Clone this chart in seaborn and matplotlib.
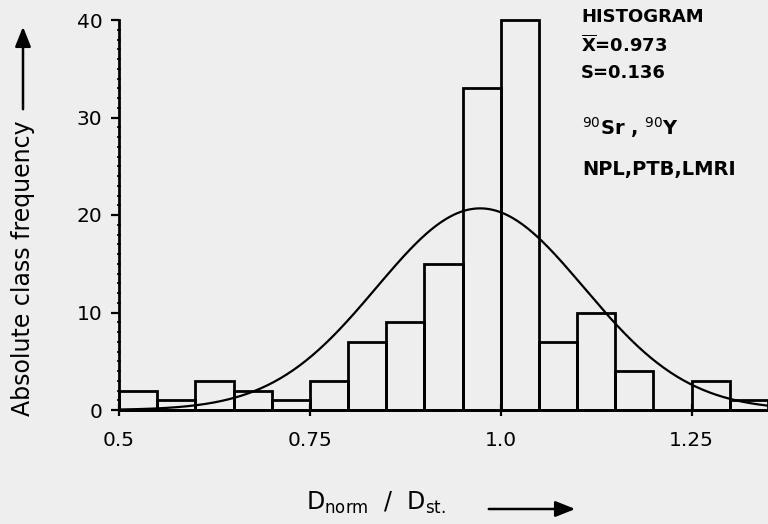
import numpy as np
import matplotlib
matplotlib.use("Agg")
import matplotlib.pyplot as plt
import seaborn as sns

# Class boundaries of D_norm / D_st. and absolute class frequencies
bin_edges = [0.50, 0.55, 0.60, 0.65, 0.70, 0.75, 0.80, 0.85, 0.90,
             0.95, 1.00, 1.05, 1.10, 1.15, 1.20, 1.25, 1.30, 1.35]
counts = [2, 1, 3, 2, 1, 3, 7, 9, 15, 33, 40, 7, 10, 4, 0, 3, 1]

# Summary statistics of the distribution
mean_value = 0.973
std_value = 0.136

x_ticks = [0.5, 0.75, 1.0, 1.25]
x_tick_labels = ["0.5", "0.75", "1.0", "1.25"]
y_ticks = [0, 10, 20, 30, 40]

stats_lines = ["HISTOGRAM", r"$\overline{\mathbf{X}}$=0.973", "S=0.136"]
source_lines = [r"$^{90}$Sr , $^{90}$Y", "NPL,PTB,LMRI"]

bg = "#eeeeee"
sns.set_theme(style="ticks")
plt.rcParams["font.family"] = ["DejaVu Sans"]
plt.rcParams["mathtext.fontset"] = "dejavusans"

W, H = 768, 524
fig = plt.figure(figsize=(W / 100, H / 100), dpi=100, facecolor=bg)
ax = fig.add_axes([119 / W, 114 / H, 649 / W, 390 / H])
ax.set_facecolor(bg)

centers = [(a + b) / 2 for a, b in zip(bin_edges[:-1], bin_edges[1:])]
sns.histplot(x=centers, weights=counts, bins=bin_edges, fill=False,
             element="bars", color="black", linewidth=2.0, ax=ax)
for p in ax.patches:
    p.set_clip_on(False)

# Fitted normal curve scaled to the number of observations and class width
n_total = sum(counts)
width = bin_edges[1] - bin_edges[0]
xs = np.linspace(bin_edges[0], bin_edges[-1], 400)
ys = n_total * width / (std_value * np.sqrt(2 * np.pi)) * np.exp(-0.5 * ((xs - mean_value) / std_value) ** 2)
sns.lineplot(x=xs, y=ys, color="black", linewidth=1.6, ax=ax)

ax.set_xlim(bin_edges[0], bin_edges[-1])
ax.set_ylim(0, 40)
ax.set_xticks(x_ticks)
ax.set_xticklabels(x_tick_labels)
ax.set_yticks(y_ticks)
ax.set_yticks(np.arange(0, 41, 1), minor=True)
ax.tick_params(axis="both", which="major", labelsize=14.5, width=1.6, length=8,
               color="black", labelcolor="black")
ax.tick_params(axis="x", which="major", direction="inout", pad=11)
ax.tick_params(axis="y", which="major", direction="out", length=6, pad=6)
ax.tick_params(axis="y", which="minor", direction="inout", length=3, width=1.2, color="black")
ax.set_xlabel("")
ax.set_ylabel("")
sns.despine(ax=ax)
for side in ("left", "bottom"):
    ax.spines[side].set_linewidth(2.0)
    ax.spines[side].set_color("black")

# Axis titles with direction arrows
fig.text(23 / W, 1 - 268 / H, "Absolute class frequency", rotation=90,
         ha="center", va="center", fontsize=17, color="black")
fig.add_artist(matplotlib.patches.FancyArrowPatch(
    (23 / W, 1 - 112 / H), (23 / W, 1 - 24 / H), transform=fig.transFigure,
    arrowstyle="-|>,head_length=1.0,head_width=0.4", mutation_scale=12,
    color="black", linewidth=1.8))

fig.text(376 / W, 1 - 503 / H, r"D$_{\mathrm{norm}}$  /  D$_{\mathrm{st.}}$",
         ha="center", va="center", fontsize=17, color="black")
fig.add_artist(matplotlib.patches.FancyArrowPatch(
    (486 / W, 1 - 509 / H), (578 / W, 1 - 509 / H), transform=fig.transFigure,
    arrowstyle="-|>,head_length=1.0,head_width=0.4", mutation_scale=12,
    color="black", linewidth=1.8))

# Statistics and source annotations
for text, y in zip(stats_lines, [17, 45, 73]):
    fig.text(581 / W, 1 - y / H, text, ha="left", va="center",
             fontsize=13, fontweight="bold", color="black")
for text, y in zip(source_lines, [128, 170]):
    fig.text(582 / W, 1 - y / H, text, ha="left", va="center",
             fontsize=14, fontweight="bold", color="black")

fig.savefig("out.png", dpi=100, facecolor=bg)
